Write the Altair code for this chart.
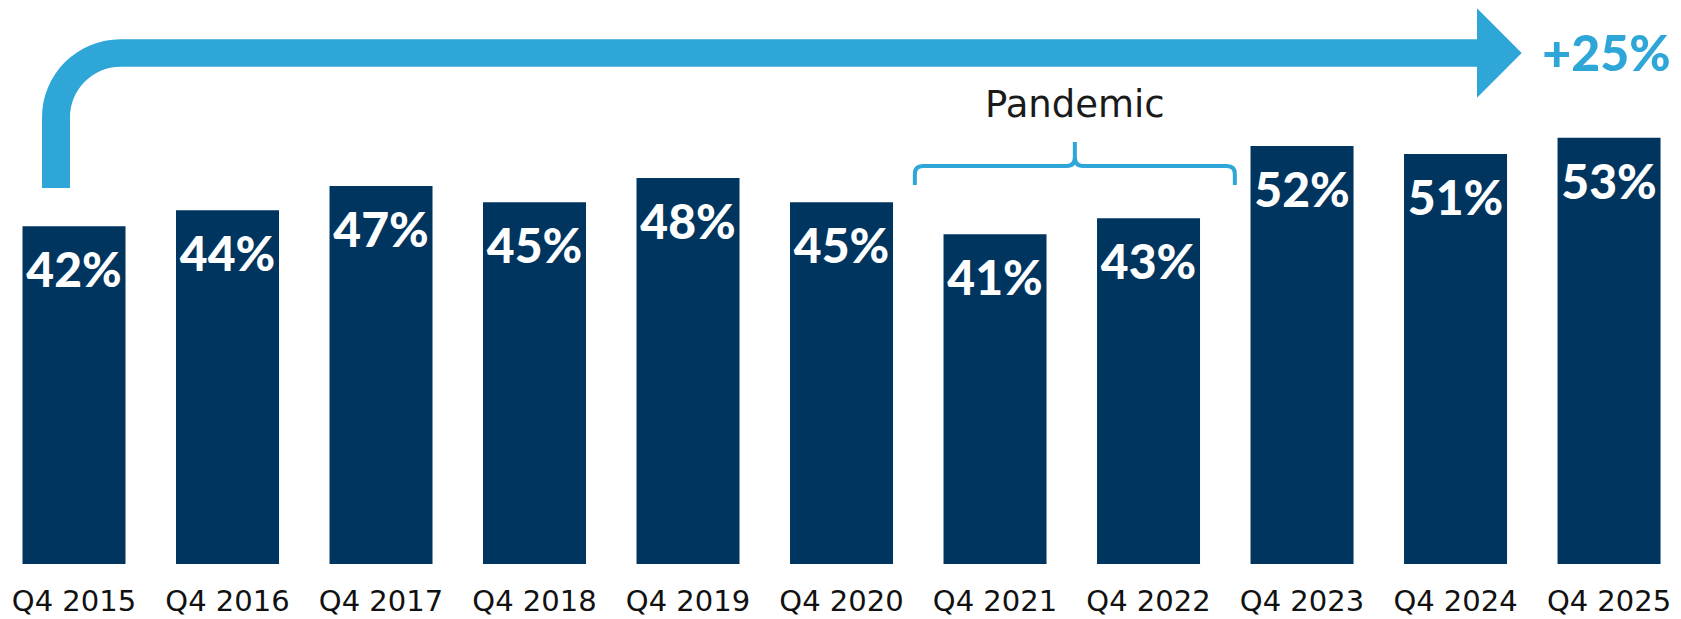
import altair as alt
import pandas as pd

# ---- data -------------------------------------------------------------
quarters = ["Q4 2015", "Q4 2016", "Q4 2017", "Q4 2018", "Q4 2019", "Q4 2020",
            "Q4 2021", "Q4 2022", "Q4 2023", "Q4 2024", "Q4 2025"]
shares = [42, 44, 47, 45, 48, 45, 41, 43, 52, 51, 53]
share_labels = [f"{v}%" for v in shares]
growth_label = "+25%"
pandemic_label = "Pandemic"
pandemic_quarters = ["Q4 2021", "Q4 2022"]

NAVY = "#00355F"
BLUE = "#2EA6D8"

df = pd.DataFrame({
    "idx": list(range(len(quarters))),
    "quarter": quarters,
    "share": shares,
    "label": share_labels,
    "base": [0] * len(quarters),
})

x_scale = alt.Scale(domain=[-0.43, 10.4167], nice=False, zero=False, padding=0)
y_scale = alt.Scale(domain=[0, 69.15], nice=False, zero=False, padding=0)

half = 0.3355
bars = alt.Chart(df).transform_calculate(
    x0=f"datum.idx - {half}", x1=f"datum.idx + {half}"
).mark_bar(color=NAVY, orient="vertical").encode(
    x=alt.X("x0:Q", scale=x_scale, axis=None),
    x2="x1:Q",
    y=alt.Y("share:Q", scale=y_scale, axis=None),
    y2=alt.datum(0),
)

bar_text = alt.Chart(df).mark_text(
    font="Lato", fontWeight=900, fontSize=48, color="white",
    baseline="alphabetic", align="center", dy=61
).encode(
    x=alt.X("idx:Q", scale=x_scale, axis=None),
    y=alt.Y("share:Q", scale=y_scale, axis=None),
    text="label:N",
)

# category labels under the bars
cat_text = alt.Chart(df).mark_text(
    font="DejaVu Sans", fontSize=29, color="#111111",
    baseline="alphabetic", align="center", dy=47
).encode(
    x=alt.X("idx:Q", scale=x_scale, axis=None),
    y=alt.Y("base:Q", scale=y_scale, axis=None),
    text="quarter:N",
)

# growth arrow (shape in px relative to its anchor; size=4 -> scale 1)
ARROW_PATH = ("M -32 135 L -32 64.6 A 78.4 78.4 0 0 1 46.5 -13.8 "
              "L 1403 -13.8 L 1403 -44.6 L 1447.7 0 L 1403 44.8 L 1403 13.8 "
              "L 46.5 13.8 A 50.7 50.7 0 0 0 -4 64.6 L -4 135 Z")
first_idx = quarters.index("Q4 2015")
arrow_df = pd.DataFrame({"x": [first_idx], "y": [63.56]})
arrow = alt.Chart(arrow_df).mark_point(
    shape=ARROW_PATH, size=4, filled=True, color=BLUE, strokeWidth=0, opacity=1
).encode(
    x=alt.X("x:Q", scale=x_scale, axis=None),
    y=alt.Y("y:Q", scale=y_scale, axis=None),
)

growth_df = pd.DataFrame({"x": [9.565], "y": [61.36], "t": [growth_label]})
growth = alt.Chart(growth_df).mark_text(
    font="Lato", fontWeight=900, fontSize=50, color=BLUE,
    align="left", baseline="alphabetic"
).encode(
    x=alt.X("x:Q", scale=x_scale, axis=None),
    y=alt.Y("y:Q", scale=y_scale, axis=None),
    text="t:N",
)

# pandemic brace
mid = (quarters.index(pandemic_quarters[0]) + quarters.index(pandemic_quarters[1])) / 2 + 0.02
BRACE_PATH = ("M -160 19 L -160 8 Q -160 0 -152 0 L -8 0 Q 0 0 0 -9 L 0 -24 "
              "M 0 -9 Q 0 0 8 0 L 152 0 Q 160 0 160 8 L 160 19")
brace_df = pd.DataFrame({"x": [mid], "y": [49.5]})
brace = alt.Chart(brace_df).mark_point(
    shape=BRACE_PATH, size=4, filled=False, color=BLUE, strokeWidth=4, opacity=1
).encode(
    x=alt.X("x:Q", scale=x_scale, axis=None),
    y=alt.Y("y:Q", scale=y_scale, axis=None),
)

pand_df = pd.DataFrame({"x": [mid], "y": [55.63], "t": [pandemic_label]})
pandemic = alt.Chart(pand_df).mark_text(
    font="DejaVu Sans", fontSize=37, color="#1A1A1A",
    align="center", baseline="alphabetic"
).encode(
    x=alt.X("x:Q", scale=x_scale, axis=None),
    y=alt.Y("y:Q", scale=y_scale, axis=None),
    text="t:N",
)

chart = alt.layer(bars, bar_text, cat_text, arrow, growth, brace, pandemic).properties(
    width=1665, height=556,
    autosize=alt.AutoSizeParams(type="none"),
    padding={"left": 0, "top": 0, "right": 0, "bottom": 55},
).configure_view(strokeWidth=0)

chart.save("out.html", embed_options={"renderer": "svg", "actions": False})
